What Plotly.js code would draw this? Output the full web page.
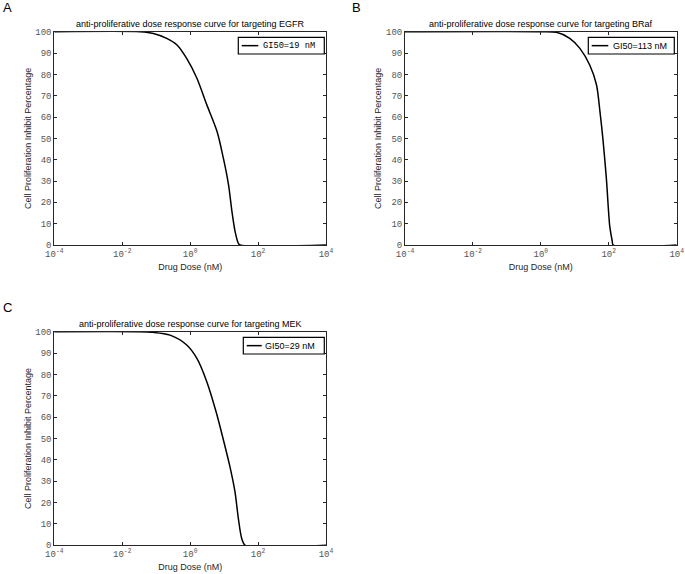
<!DOCTYPE html>
<html>
<head>
<meta charset="utf-8">
<script src="https://cdn.plot.ly/plotly-3.0.1.min.js"></script>
<style>html,body{margin:0;padding:0;background:#fff}#chart{width:685px;height:574px}</style>
</head>
<body>
<div id="chart"></div>
<script>
// ---- data ----
const xTickVals = [1e-4, 1e-2, 1, 1e2, 1e4];
const xTickText = ['10<sup>-4</sup>', '10<sup>-2</sup>', '10<sup>0</sup>', '10<sup>2</sup>', '10<sup>4</sup>'];
const yTickVals = [0, 10, 20, 30, 40, 50, 60, 70, 80, 90, 100];

const egfrDose = [1e-4, 0.034, 0.083, 0.204, 0.41, 0.79, 1.58, 3.1, 6.2, 9.5, 13.5, 17, 21, 26.3, 29.5, 1e4];
const egfrPct  = [100, 100, 99.2, 96.9, 93.8, 87.5, 78.2, 65.7, 53.2, 40.7, 28.2, 15.7, 6.4, 0.8, 0, 0];

const brafDose = [1e-4, 0.93, 2.88, 7.08, 14.1, 27.5, 43.6, 55.0, 67.6, 85.1, 107, 126, 135, 1e4];
const brafPct  = [100, 100, 99.7, 96.9, 92.2, 84.4, 75, 62.5, 49.3, 31, 8.7, 2, 0, 0];

const mekDose = [1e-4, 0.0269, 0.0832, 0.257, 0.794, 1.58, 3.09, 5.8, 9.3, 14.5, 20.9, 26.3, 33.1, 41.7, 1e4];
const mekPct  = [100, 100, 99.7, 98.4, 93.8, 87.5, 76.6, 62.5, 50, 37.5, 25, 12.5, 3.1, 0, 0];

const panelTitles = [
  'anti-proliferative dose response curve for targeting EGFR',
  'anti-proliferative dose response curve for targeting BRaf',
  'anti-proliferative dose response curve for targeting MEK'
];
const legendNames = ['GI50=19 nM', 'GI50=113 nM', 'GI50=29 nM'];
const panelLetters = ['A', 'B', 'C'];
const xTitle = 'Drug Dose (nM)';
const yTitle = 'Cell Proliferation Inhibit Percentage';

// ---- layout ----
const W = 685, H = 574;
const sans = 'Liberation Sans, Arial, Helvetica, sans-serif';
const mono = 'Liberation Mono, Courier New, monospace';

const lineStyle = {color: '#000', width: 1.5, shape: 'spline', smoothing: 0.8};
const traces = [
  {x: egfrDose, y: egfrPct, name: legendNames[0], xaxis: 'x', yaxis: 'y', mode: 'lines', line: lineStyle, showlegend: false},
  {x: brafDose, y: brafPct, name: legendNames[1], xaxis: 'x2', yaxis: 'y2', mode: 'lines', line: lineStyle, showlegend: false},
  {x: mekDose, y: mekPct, name: legendNames[2], xaxis: 'x3', yaxis: 'y3', mode: 'lines', line: lineStyle, showlegend: false}
];

function px(x) { return x / W; }
function py(y) { return 1 - y / H; }

function xaxis(dom, anchor) {
  return {
    type: 'log', domain: dom, anchor: anchor, range: [-4, 4],
    tickvals: xTickVals, ticktext: xTickText,
    ticks: 'inside', ticklen: 3, tickcolor: '#262626', tickwidth: 1,
    showline: true, linecolor: '#262626', linewidth: 1, mirror: 'ticks',
    showgrid: false, zeroline: false,
    tickfont: {family: mono, size: 9, color: '#555'},
    title: {text: xTitle, font: {family: sans, size: 9, color: '#262626'}, standoff: 4}
  };
}
function yaxis(dom, anchor) {
  return {
    domain: dom, anchor: anchor, range: [0, 100],
    tickvals: yTickVals,
    ticks: 'inside', ticklen: 3, tickcolor: '#262626', tickwidth: 1,
    showline: true, linecolor: '#262626', linewidth: 1, mirror: 'ticks',
    showgrid: false, zeroline: false,
    tickfont: {family: mono, size: 9, color: '#555'},
    title: {text: yTitle, font: {family: sans, size: 9, color: '#262626'}, standoff: 2}
  };
}

const xdomA = [px(54.3), px(326)], xdomB = [px(405), px(676.7)];
const ydomTop = [py(245), py(31.7)], ydomC = [py(545.3), py(331.7)];

const annotations = [];
const shapes = [];
const titlePos = [[190, 24], [541, 24], [190, 324]];
titlePos.forEach((p, i) => annotations.push({
  text: panelTitles[i], xref: 'paper', yref: 'paper', x: px(p[0]), y: py(p[1]),
  xanchor: 'center', yanchor: 'middle', showarrow: false,
  font: {family: sans, size: 9, color: '#000'}
}));
const letterPos = [[7, 8], [356, 8], [7.5, 307]];
letterPos.forEach((p, i) => annotations.push({
  text: panelLetters[i], xref: 'paper', yref: 'paper', x: px(p[0]), y: py(p[1]),
  xanchor: 'center', yanchor: 'middle', showarrow: false,
  font: {family: sans, size: 13, color: '#000'}
}));

// legend boxes (box, sample line, label) in pixel positions
const legendBoxes = [
  {x0: 238.3, x1: 324.3, y0: 37.3, y1: 54, lx0: 241.7, lx1: 258.3, tx: 260.5, font: mono, size: 8.7},
  {x0: 588.3, x1: 674.3, y0: 37.3, y1: 54, lx0: 591.7, lx1: 608.3, tx: 611, font: sans, size: 9},
  {x0: 243.3, x1: 324.3, y0: 337.3, y1: 354, lx0: 246.7, lx1: 261.7, tx: 263, font: sans, size: 9}
];
legendBoxes.forEach((b, i) => {
  const yc = (b.y0 + b.y1) / 2;
  shapes.push({type: 'rect', xref: 'paper', yref: 'paper', x0: px(b.x0), x1: px(b.x1), y0: py(b.y0), y1: py(b.y1),
    line: {color: '#000', width: 1.2}, fillcolor: '#fff'});
  shapes.push({type: 'line', xref: 'paper', yref: 'paper', x0: px(b.lx0), x1: px(b.lx1), y0: py(yc), y1: py(yc),
    line: {color: '#000', width: 1.5}});
  annotations.push({text: legendNames[i], xref: 'paper', yref: 'paper', x: px(b.tx), y: py(yc),
    xanchor: 'left', yanchor: 'middle', showarrow: false,
    font: {family: b.font, size: b.size, color: '#000'}});
});

const layout = {
  width: W, height: H,
  margin: {l: 0, r: 0, t: 0, b: 0},
  paper_bgcolor: '#fff', plot_bgcolor: '#fff',
  showlegend: false,
  xaxis: xaxis(xdomA, 'y'), yaxis: yaxis(ydomTop, 'x'),
  xaxis2: xaxis(xdomB, 'y2'), yaxis2: yaxis(ydomTop, 'x2'),
  xaxis3: xaxis(xdomA, 'y3'), yaxis3: yaxis(ydomC, 'x3'),
  annotations: annotations,
  shapes: shapes
};

Plotly.newPlot('chart', traces, layout, {displayModeBar: false, staticPlot: true});
</script>
</body>
</html>
